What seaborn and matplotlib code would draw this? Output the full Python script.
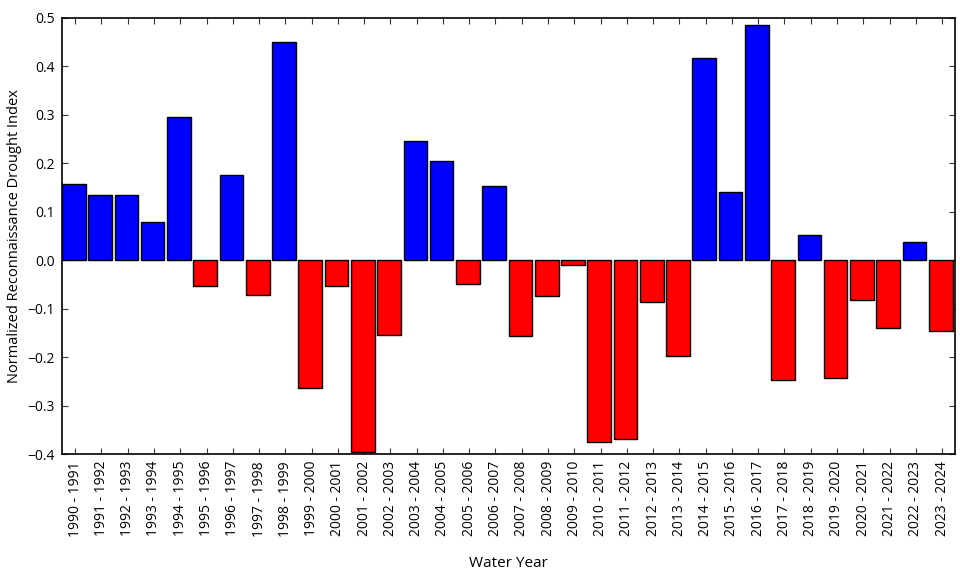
import numpy as np
import pandas as pd
import matplotlib
matplotlib.use("Agg")
import matplotlib.pyplot as plt
import seaborn as sns

# Water years and drought index values
start_years = list(range(1990, 2024))
water_years = [f"{y} - {y + 1}" for y in start_years]
rdi_values = [
    0.158, 0.134, 0.135, 0.079, 0.295, -0.054, 0.176, -0.072, 0.450, -0.264,
    -0.054, -0.396, -0.155, 0.247, 0.205, -0.049, 0.154, -0.156, -0.074, -0.010,
    -0.375, -0.368, -0.087, -0.198, 0.417, 0.140, 0.486, -0.247, 0.053, -0.244,
    -0.083, -0.139, 0.038, -0.146,
]
y_ticks = [-0.4, -0.3, -0.2, -0.1, 0.0, 0.1, 0.2, 0.3, 0.4, 0.5]

df = pd.DataFrame({"year": water_years, "rdi": rdi_values})
df["sign"] = np.where(df["rdi"] >= 0, "wet", "dry")

sns.set_style("white")
plt.rcParams["font.family"] = ["Open Sans", "DejaVu Sans"]
plt.rcParams["axes.unicode_minus"] = True
plt.rcParams["text.color"] = "black"
plt.rcParams["axes.labelcolor"] = "black"
plt.rcParams["xtick.color"] = "black"
plt.rcParams["ytick.color"] = "black"

fig = plt.figure(figsize=(9.6, 5.78), dpi=100)
ax = fig.add_axes([0.0646, 0.2145, 0.9304, 0.7545])

sns.barplot(data=df, x="year", y="rdi", hue="sign",
            palette={"wet": "#0000ff", "dry": "#ff0000"},
            dodge=False, width=0.9, edgecolor="black", linewidth=1.0,
            saturation=1, legend=False, ax=ax)

n = len(water_years)
ax.set_xlim(-0.45, n - 0.45)
ax.set_xticks(np.arange(n) + 0.05)
ax.set_xticklabels(water_years, rotation=90, fontsize=10)
ax.set_ylim(-0.4, 0.5)
ax.set_yticks(y_ticks)
ax.set_yticklabels([f"{v:.1f}".replace("-", "\u2212") for v in y_ticks], fontsize=10)

ax.tick_params(direction="in", length=4, width=0.8, top=True, right=True,
               bottom=True, left=True, color="#333333", pad=5)
for side in ax.spines.values():
    side.set_visible(True)
    side.set_color("black")
    side.set_linewidth(1.2)

ax.set_xlabel("Water Year", fontsize=11, labelpad=14)
ax.set_ylabel("Normalized Reconnaissance Drought Index", fontsize=10.5, labelpad=4)

fig.savefig("out.png", dpi=100)
